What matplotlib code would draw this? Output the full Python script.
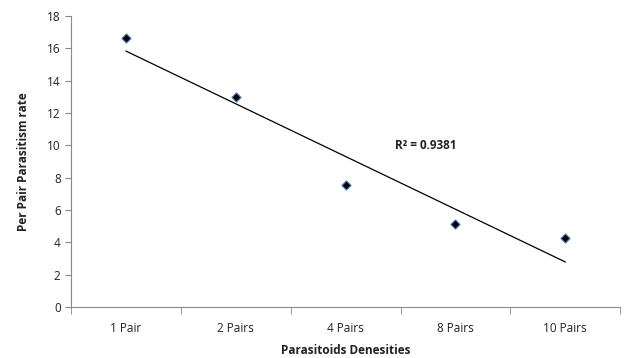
import matplotlib.pyplot as plt
import numpy as np

categories = ["1 Pair", "2 Pairs", "4 Pairs", "8 Pairs", "10 Pairs"]
rates = [16.64, 12.99, 7.55, 5.13, 4.27]
r2_label = "R² = 0.9381"

plt.rcParams['font.family'] = ['Open Sans', 'DejaVu Sans']

fig = plt.figure(figsize=(6.29, 3.58), dpi=100)
ax = fig.add_axes([0.113, 0.142, 0.873, 0.813])

x = np.arange(len(categories))
ax.scatter(x, rates, marker="D", s=22, c="black", edgecolors="#4f81bd", linewidths=0.8, zorder=3)

# linear trendline
m, b = np.polyfit(x, rates, 1)
ax.plot(x, m * x + b, color="black", lw=0.9, zorder=2)

ax.text(2.73, 10.0, r2_label, fontsize=8.5, fontweight="bold", ha="center", va="center", color="#222222")

ax.set_xlim(-0.5, len(categories) - 0.5)
ax.set_ylim(0, 18)
ax.set_yticks(range(0, 19, 2))
ax.set_xticks(x)
ax.set_xticklabels(categories)
ax.set_xticks(np.arange(-0.5, len(categories), 1), minor=True)
ax.tick_params(axis="x", which="major", length=0, pad=11, labelsize=8.5, colors="#222222")
ax.tick_params(axis="x", which="minor", length=5, color="#888888")
ax.tick_params(axis="y", length=4, color="#888888", labelsize=8.5, labelcolor="#222222")

for s in ["top", "right"]:
    ax.spines[s].set_visible(False)
for s in ["left", "bottom"]:
    ax.spines[s].set_color("#888888")
    ax.spines[s].set_linewidth(0.8)

ax.set_xlabel("Parasitoids Denesities", fontsize=8.5, fontweight="bold", color="#222222", labelpad=6)
ax.set_ylabel("Per Pair Parasitism rate", fontsize=8.5, fontweight="bold", color="#222222", labelpad=12)

fig.savefig("out.png", dpi=100)
